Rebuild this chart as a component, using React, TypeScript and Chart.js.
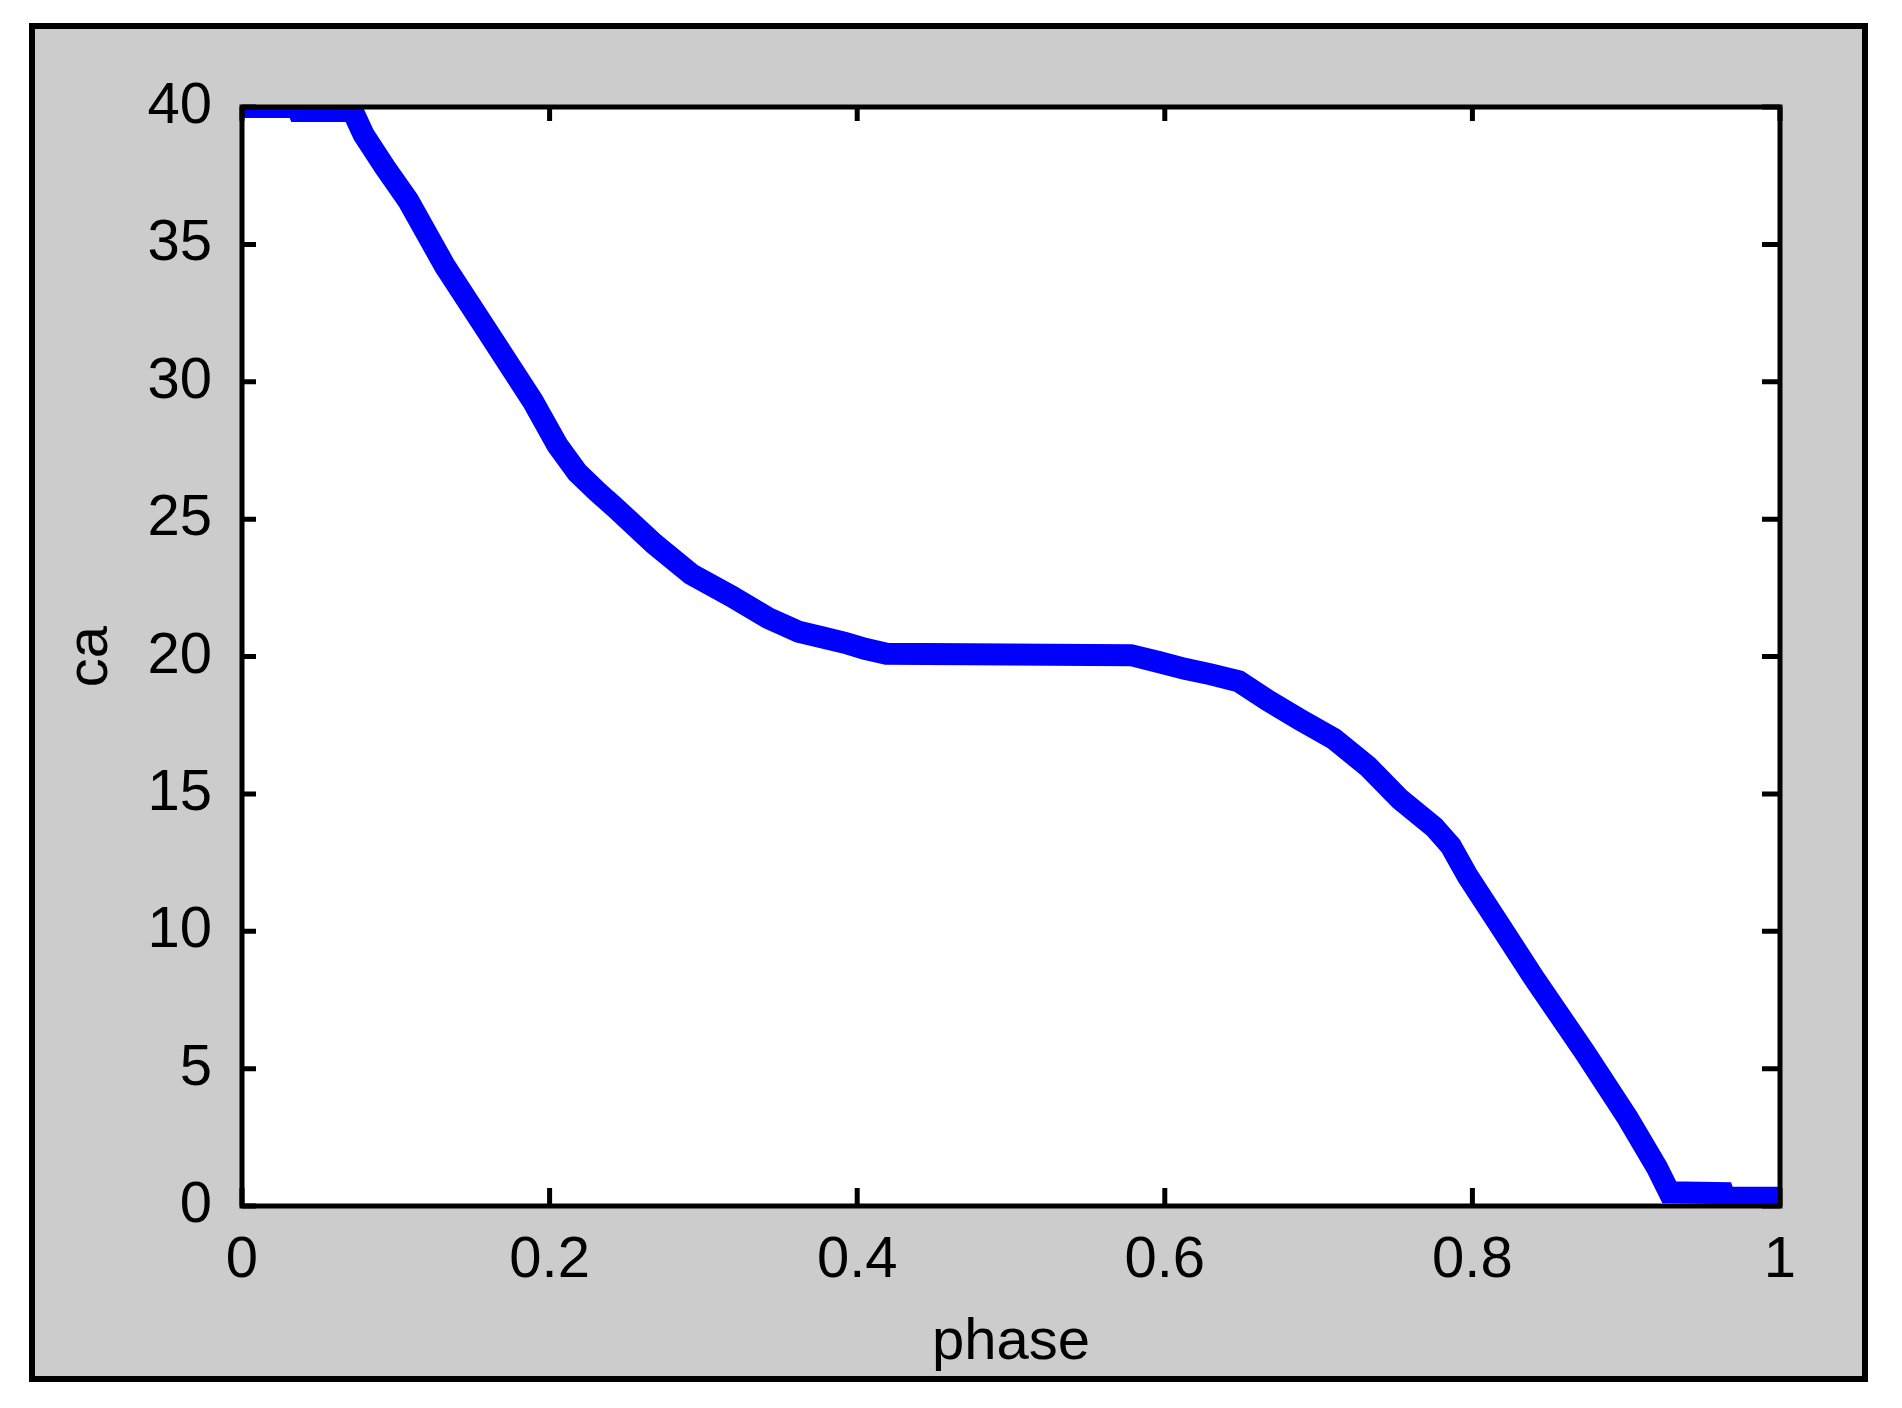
import React, { useEffect, useRef } from 'react';
import { Chart, registerables } from 'chart.js';

Chart.register(...registerables);

// ---- data ----
const phase = [
  0, 0.036, 0.037, 0.072, 0.079, 0.093, 0.108, 0.132, 0.16, 0.189,
  0.205, 0.218, 0.231, 0.243, 0.268, 0.292, 0.318, 0.342, 0.362, 0.377,
  0.392, 0.405, 0.419, 0.578, 0.596, 0.613, 0.63, 0.648, 0.667, 0.688,
  0.71, 0.732, 0.753, 0.775, 0.786, 0.797, 0.818, 0.84, 0.862, 0.873,
  0.901, 0.92, 0.928, 0.963, 0.964, 1.0,
];
const ca = [
  40, 40, 39.85, 39.85, 39.0, 37.8, 36.6, 34.2, 31.8, 29.3,
  27.7, 26.7, 26.0, 25.4, 24.1, 23.0, 22.2, 21.4, 20.9, 20.7,
  20.5, 20.28, 20.1, 20.05, 19.8, 19.55, 19.35, 19.1, 18.4, 17.7,
  17.0, 16.0, 14.8, 13.8, 13.1, 12.0, 10.2, 8.3, 6.5, 5.6,
  3.2, 1.4, 0.5, 0.47, 0.3, 0.3,
];
const xTicks = [0, 0.2, 0.4, 0.6, 0.8, 1];
const xTickLabels = ['0', '0.2', '0.4', '0.6', '0.8', '1'];
const yTicks = [0, 5, 10, 15, 20, 25, 30, 35, 40];
const yTickLabels = ['0', '5', '10', '15', '20', '25', '30', '35', '40'];
const xTitle = 'phase';
const yTitle = 'ca';

const W = 1902;
const H = 1408;
const FONT = { family: '"Liberation Sans", Arial, sans-serif', size: 58 };

export default function App() {
  const ref = useRef<HTMLCanvasElement>(null);

  useEffect(() => {
    const canvas = ref.current;
    if (!canvas) return;

    const frame = {
      id: 'frame',
      beforeDraw(chart: any) {
        const { ctx, chartArea } = chart;
        ctx.save();
        ctx.fillStyle = '#ffffff';
        ctx.fillRect(0, 0, W, H);
        ctx.fillStyle = '#000000';
        ctx.fillRect(29, 23, 1839, 1359);
        ctx.fillStyle = '#cccccc';
        ctx.fillRect(35, 29, 1827, 1347);
        ctx.fillStyle = '#ffffff';
        ctx.fillRect(chartArea.left, chartArea.top, chartArea.right - chartArea.left, chartArea.bottom - chartArea.top);
        ctx.restore();
      },
      afterDraw(chart: any) {
        const { ctx, chartArea } = chart;
        const { left, right, top, bottom } = chartArea;
        const xs = chart.scales.x;
        const ys = chart.scales.y;
        ctx.save();
        ctx.strokeStyle = '#000000';
        ctx.lineCap = 'butt';
        ctx.lineWidth = 5;
        const tlNear = 14;
        const tlFar = 18;
        ctx.beginPath();
        for (const v of yTicks) {
          const py = ys.getPixelForValue(v);
          ctx.moveTo(left, py);
          ctx.lineTo(left + tlNear, py);
          ctx.moveTo(right, py);
          ctx.lineTo(right - tlFar, py);
        }
        for (const v of xTicks) {
          const px = xs.getPixelForValue(v);
          ctx.moveTo(px, bottom);
          ctx.lineTo(px, bottom - tlFar);
          ctx.moveTo(px, top);
          ctx.lineTo(px, top + tlNear);
        }
        ctx.stroke();
        ctx.lineWidth = 5;
        ctx.lineJoin = 'miter';
        ctx.strokeRect(left, top, right - left, bottom - top);
        ctx.restore();
      },
    };

    const chart = new Chart(canvas, {
      type: 'line',
      data: {
        datasets: [
          {
            data: phase.map((p, i) => ({ x: p, y: ca[i] })),
            borderColor: '#0000ff',
            backgroundColor: '#0000ff',
            borderWidth: 22,
            pointRadius: 0,
            tension: 0,
            fill: false,
            clip: 0,
            borderJoinStyle: 'miter',
            borderCapStyle: 'butt',
          } as any,
        ],
      },
      options: {
        responsive: false,
        animation: false,
        devicePixelRatio: 1,
        layout: { padding: { top: 107, right: 122, left: 0, bottom: 0 } },
        plugins: { legend: { display: false }, tooltip: { enabled: false } },
        scales: {
          x: {
            type: 'linear',
            min: 0,
            max: 1,
            afterBuildTicks: (s: any) => {
              s.ticks = xTicks.map((v) => ({ value: v }));
            },
            afterFit: (s: any) => {
              s.height = 202;
            },
            ticks: {
              autoSkip: false,
              maxRotation: 0,
              minRotation: 0,
              padding: 20,
              color: '#000000',
              font: FONT,
              callback: (v: any) => {
                const i = xTicks.findIndex((t) => Math.abs(t - Number(v)) < 1e-9);
                return i >= 0 ? xTickLabels[i] : '';
              },
            },
            grid: { display: false, drawTicks: false },
            border: { display: false },
            title: {
              display: true,
              text: xTitle,
              color: '#000000',
              font: FONT,
              padding: { top: 0, bottom: 30 },
            },
          },
          y: {
            type: 'linear',
            min: 0,
            max: 40,
            afterBuildTicks: (s: any) => {
              s.ticks = yTicks.map((v) => ({ value: v }));
            },
            afterFit: (s: any) => {
              s.width = 242;
            },
            ticks: {
              autoSkip: false,
              padding: 30,
              color: '#000000',
              font: FONT,
              callback: (v: any) => {
                const i = yTicks.findIndex((t) => Math.abs(t - Number(v)) < 1e-9);
                return i >= 0 ? yTickLabels[i] : '';
              },
            },
            grid: { display: false, drawTicks: false },
            border: { display: false },
            title: {
              display: true,
              text: yTitle,
              color: '#000000',
              font: FONT,
              padding: { top: 56, bottom: 0 },
            },
          },
        },
      } as any,
      plugins: [frame],
    });

    return () => chart.destroy();
  }, []);

  return (
    <div style={{ position: 'fixed', left: 0, top: 0, width: W, height: H, background: '#ffffff' }}>
      <canvas ref={ref} width={W} height={H} style={{ width: W, height: H, display: 'block' }} />
    </div>
  );
}
